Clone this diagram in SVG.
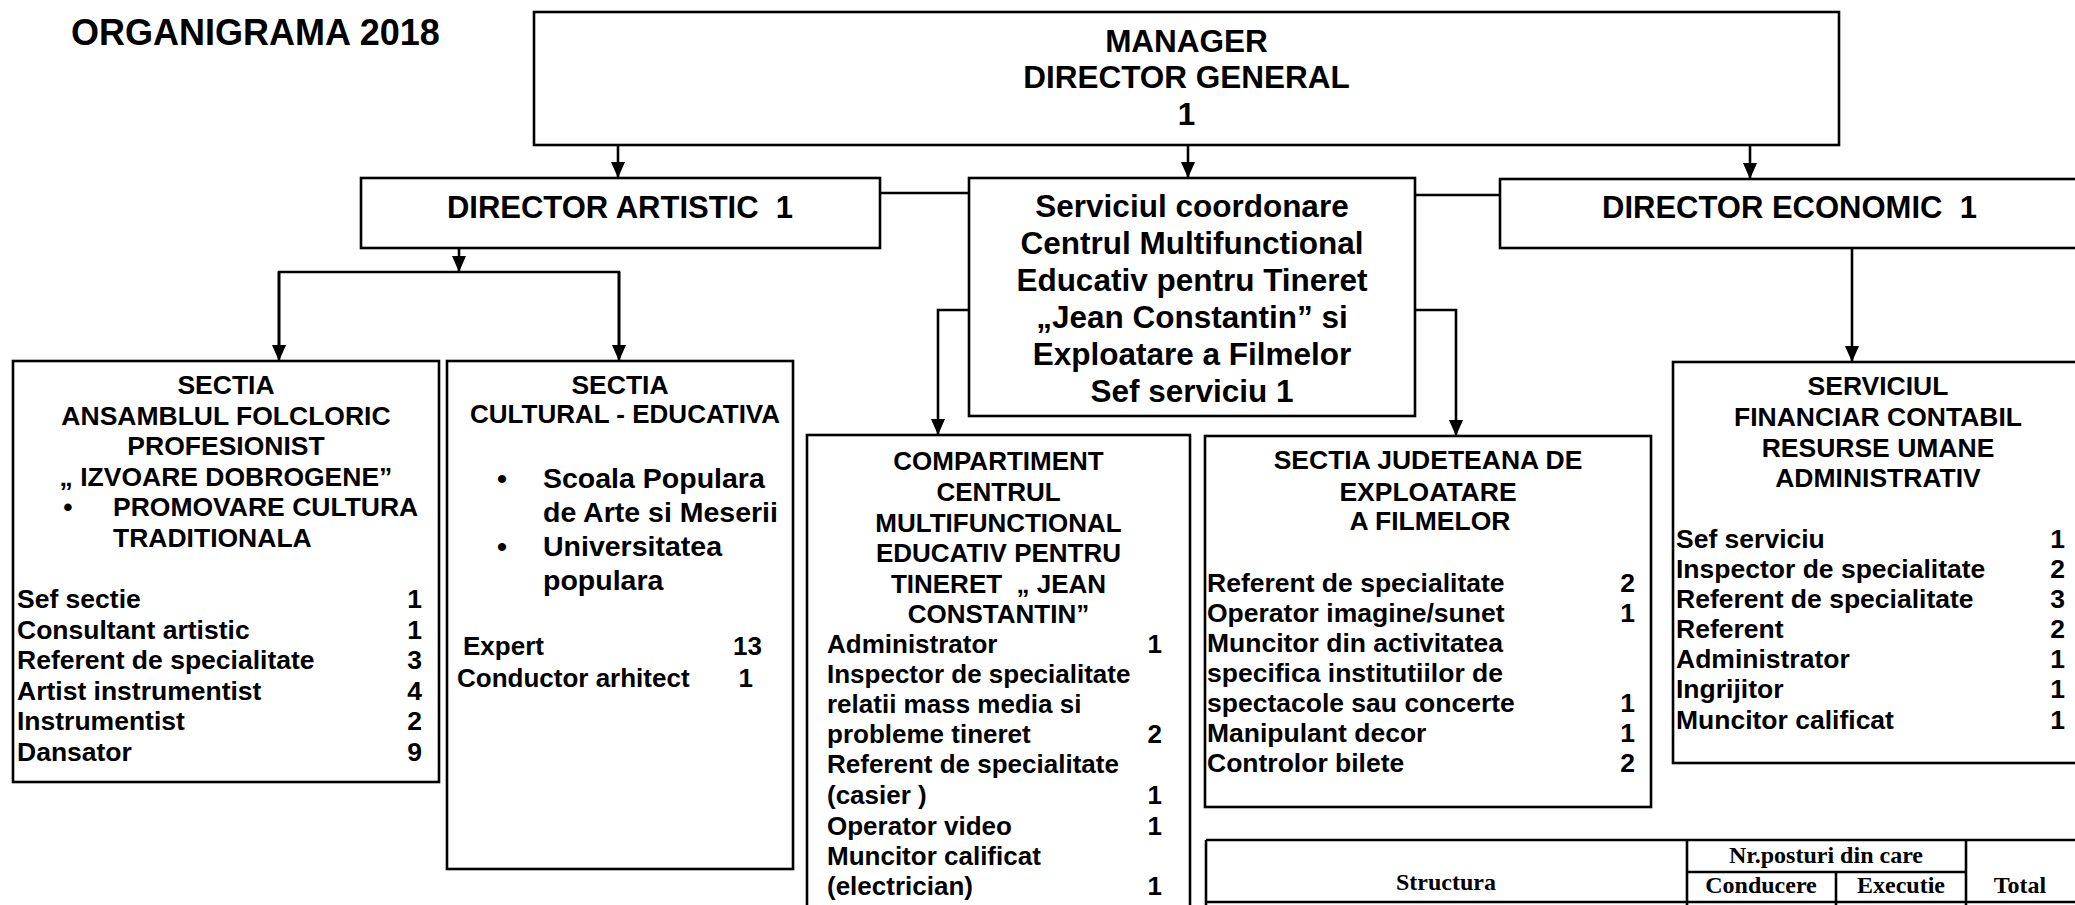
<svg xmlns="http://www.w3.org/2000/svg" width="2075" height="905" viewBox="0 0 2075 905">
<style>
.box{fill:#fff;stroke:#000;stroke-width:2.6}
.ln{fill:none;stroke:#000;stroke-width:2.6}
.arr{marker-end:url(#ah)}
text{font-family:"Liberation Sans",Arial,sans-serif;font-weight:bold;fill:#000}
.t2{font-size:31.5px;text-anchor:middle}
.h{font-size:26.5px;text-anchor:middle}
.i{font-size:26.5px}
.s{font-size:26px}
.n{text-anchor:end}
.tb{font-family:"Liberation Serif","Times New Roman",serif;font-size:24px;text-anchor:middle}
</style>
<defs>
<marker id="ah" markerUnits="userSpaceOnUse" markerWidth="16" markerHeight="14" refX="16" refY="7" orient="auto">
<path d="M0,0 L16,7 L0,14 z" fill="#000"/>
</marker>
</defs>
<rect width="2075" height="905" fill="#fff"/>
<text x="71" y="45" style="font-size:36px">ORGANIGRAMA 2018</text>

<g id="connectors">
<line class="ln arr" x1="618" y1="145" x2="618" y2="178"/>
<line class="ln arr" x1="1188" y1="145" x2="1188" y2="178"/>
<line class="ln arr" x1="1750" y1="145" x2="1750" y2="179"/>
<line class="ln arr" x1="459" y1="248" x2="459" y2="272"/>
<polyline class="ln" points="279,358 279,272 619,272 619,358"/>
<line class="ln arr" x1="279" y1="272" x2="279" y2="361"/>
<line class="ln arr" x1="619" y1="272" x2="619" y2="361"/>
<line class="ln" x1="880" y1="193" x2="969" y2="193"/>
<line class="ln" x1="1415" y1="195" x2="1500" y2="195"/>
<polyline class="ln arr" points="969,310 938,310 938,435"/>
<polyline class="ln arr" points="1415,310 1456,310 1456,436"/>
<line class="ln arr" x1="1852" y1="248" x2="1852" y2="362"/>
</g>

<g id="manager">
<rect class="box" x="534" y="12" width="1305" height="133"/>
<text class="t2" x="1186.5" y="52">MANAGER</text>
<text class="t2" x="1186.5" y="88">DIRECTOR GENERAL</text>
<text class="t2" x="1186.5" y="125">1</text>
</g>

<g id="director-artistic">
<rect class="box" x="361" y="178" width="519" height="70"/>
<text class="t2" x="620" y="218" style="font-size:31px" xml:space="preserve">DIRECTOR ARTISTIC  1</text>
</g>

<g id="serviciul-coordonare">
<rect class="box" x="969" y="178" width="446" height="238"/>
<text class="t2" x="1192" y="217">Serviciul coordonare</text>
<text class="t2" x="1192" y="254">Centrul Multifunctional</text>
<text class="t2" x="1192" y="291">Educativ pentru Tineret</text>
<text class="t2" x="1192" y="328">„Jean Constantin” si</text>
<text class="t2" x="1192" y="365">Exploatare a Filmelor</text>
<text class="t2" x="1192" y="402">Sef serviciu 1</text>
</g>

<g id="director-economic">
<rect class="box" x="1500" y="179" width="590" height="69"/>
<text x="1602" y="218" style="font-size:31px" xml:space="preserve">DIRECTOR ECONOMIC  1</text>
</g>

<g id="sectia-ansamblu">
<rect class="box" x="13" y="361" width="426" height="421"/>
<text class="h" x="226" y="394">SECTIA</text>
<text class="h" x="226" y="425">ANSAMBLUL FOLCLORIC</text>
<text class="h" x="226" y="455">PROFESIONIST</text>
<text class="h" x="226" y="486" xml:space="preserve">„ IZVOARE DOBROGENE”</text>
<text class="h" x="68" y="516">•</text>
<text class="i" x="113" y="516">PROMOVARE CULTURA</text>
<text class="i" x="113" y="547">TRADITIONALA</text>
<text class="i" x="17" y="608">Sef sectie</text><text class="i n" x="422" y="608">1</text>
<text class="i" x="17" y="639">Consultant artistic</text><text class="i n" x="422" y="639">1</text>
<text class="i" x="17" y="669">Referent de specialitate</text><text class="i n" x="422" y="669">3</text>
<text class="i" x="17" y="700">Artist instrumentist</text><text class="i n" x="422" y="700">4</text>
<text class="i" x="17" y="730">Instrumentist</text><text class="i n" x="422" y="730">2</text>
<text class="i" x="17" y="761">Dansator</text><text class="i n" x="422" y="761">9</text>
</g>

<g id="sectia-cultural">
<rect class="box" x="447" y="361" width="346" height="508"/>
<text class="h" x="620" y="394">SECTIA</text>
<text class="s" x="470" y="423">CULTURAL - EDUCATIVA</text>
<text x="502" y="488" style="font-size:28.5px;text-anchor:middle">•</text>
<text x="543" y="488" style="font-size:28.5px">Scoala Populara</text>
<text x="543" y="522" style="font-size:28.5px">de Arte si Meserii</text>
<text x="502" y="556" style="font-size:28.5px;text-anchor:middle">•</text>
<text x="543" y="556" style="font-size:28.5px">Universitatea</text>
<text x="543" y="590" style="font-size:28.5px">populara</text>
<text class="s" x="463" y="655">Expert</text><text class="s n" x="762" y="655">13</text>
<text class="s" x="457" y="687">Conductor arhitect</text><text class="s n" x="753" y="687">1</text>
</g>

<g id="compartiment">
<rect class="box" x="807" y="435" width="383" height="480"/>
<text class="h s" x="998.5" y="470">COMPARTIMENT</text>
<text class="h s" x="998.5" y="501">CENTRUL</text>
<text class="h s" x="998.5" y="532">MULTIFUNCTIONAL</text>
<text class="h s" x="998.5" y="562">EDUCATIV PENTRU</text>
<text class="h s" x="998.5" y="593" xml:space="preserve">TINERET  „ JEAN</text>
<text class="h s" x="998.5" y="623">CONSTANTIN”</text>
<text class="s" x="827" y="653">Administrator</text><text class="s n" x="1162" y="653">1</text>
<text class="s" x="827" y="683">Inspector de specialitate</text>
<text class="s" x="827" y="713">relatii mass media si</text>
<text class="s" x="827" y="743">probleme tineret</text><text class="s n" x="1162" y="743">2</text>
<text class="s" x="827" y="773">Referent de specialitate</text>
<text class="s" x="827" y="804">(casier )</text><text class="s n" x="1162" y="804">1</text>
<text class="s" x="827" y="835">Operator video</text><text class="s n" x="1162" y="835">1</text>
<text class="s" x="827" y="865">Muncitor calificat</text>
<text class="s" x="827" y="895">(electrician)</text><text class="s n" x="1162" y="895">1</text>
</g>

<g id="sectia-judeteana">
<rect class="box" x="1205" y="436" width="446" height="371"/>
<text class="h" x="1428" y="469">SECTIA JUDETEANA DE</text>
<text class="h" x="1428" y="501">EXPLOATARE</text>
<text class="h" x="1430" y="530">A FILMELOR</text>
<text class="i" x="1207" y="592">Referent de specialitate</text><text class="i n" x="1635" y="592">2</text>
<text class="i" x="1207" y="622">Operator imagine/sunet</text><text class="i n" x="1635" y="622">1</text>
<text class="i" x="1207" y="652">Muncitor din activitatea</text>
<text class="i" x="1207" y="682">specifica institutiilor de</text>
<text class="i" x="1207" y="712">spectacole sau concerte</text><text class="i n" x="1635" y="712">1</text>
<text class="i" x="1207" y="742">Manipulant decor</text><text class="i n" x="1635" y="742">1</text>
<text class="i" x="1207" y="772">Controlor bilete</text><text class="i n" x="1635" y="772">2</text>
</g>

<g id="serviciul-financiar">
<rect class="box" x="1673" y="362" width="420" height="401"/>
<text class="h" x="1878" y="395">SERVICIUL</text>
<text class="h" x="1878" y="426">FINANCIAR CONTABIL</text>
<text class="h" x="1878" y="457">RESURSE UMANE</text>
<text class="h" x="1878" y="487">ADMINISTRATIV</text>
<text class="i" x="1676" y="548">Sef serviciu</text><text class="i n" x="2065" y="548">1</text>
<text class="i" x="1676" y="578">Inspector de specialitate</text><text class="i n" x="2065" y="578">2</text>
<text class="i" x="1676" y="608">Referent de specialitate</text><text class="i n" x="2065" y="608">3</text>
<text class="i" x="1676" y="638">Referent</text><text class="i n" x="2065" y="638">2</text>
<text class="i" x="1676" y="668">Administrator</text><text class="i n" x="2065" y="668">1</text>
<text class="i" x="1676" y="698">Ingrijitor</text><text class="i n" x="2065" y="698">1</text>
<text class="i" x="1676" y="729">Muncitor calificat</text><text class="i n" x="2065" y="729">1</text>
</g>

<g id="tabel">
<line class="ln" x1="1206" y1="840" x2="2090" y2="840"/>
<line class="ln" x1="1206" y1="902" x2="2090" y2="902"/>
<line class="ln" x1="1206" y1="840" x2="1206" y2="910"/>
<line class="ln" x1="1687" y1="840" x2="1687" y2="910"/>
<line class="ln" x1="1966" y1="840" x2="1966" y2="910"/>
<line class="ln" x1="1687" y1="872" x2="1966" y2="872"/>
<line class="ln" x1="1836" y1="872" x2="1836" y2="910"/>
<text class="tb" x="1446" y="890">Structura</text>
<text class="tb" x="1826" y="863">Nr.posturi din care</text>
<text class="tb" x="1761" y="893">Conducere</text>
<text class="tb" x="1901" y="893">Executie</text>
<text class="tb" x="2020" y="893">Total</text>
</g>
</svg>
